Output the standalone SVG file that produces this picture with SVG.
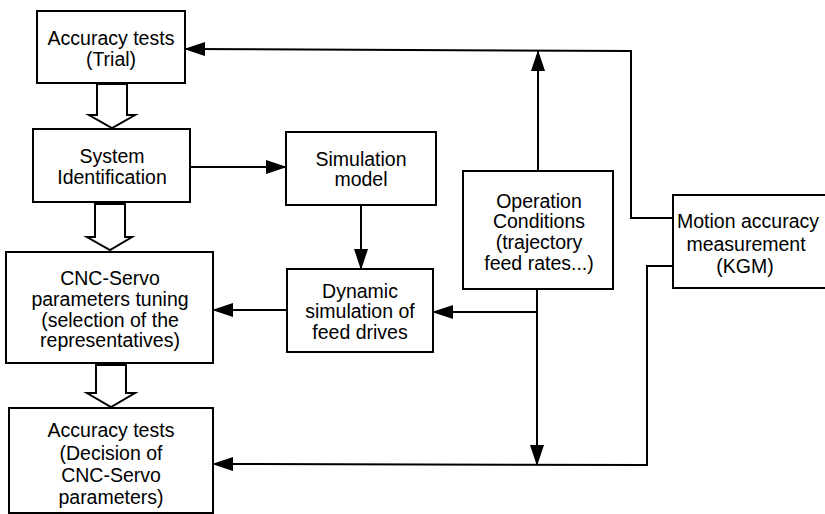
<svg xmlns="http://www.w3.org/2000/svg" width="825" height="514" viewBox="0 0 825 514">
<style>
.box{fill:#fff;stroke:#000;stroke-width:2}
.t{font-family:"Liberation Sans",Arial,sans-serif;font-size:19.5px;text-anchor:middle;fill:#000}
.c{fill:none;stroke:#000;stroke-width:2}
.h{fill:#fff;stroke:#000;stroke-width:2;stroke-linejoin:miter}
</style>
<defs>
<marker id="ah" markerUnits="userSpaceOnUse" markerWidth="21" markerHeight="14" refX="20" refY="7" orient="auto" viewBox="0 0 21 14">
<path d="M0,0 L21,7 L0,14 Z" fill="#000"/>
</marker>
</defs>
<rect width="825" height="514" fill="#fff"/>
<g id="connectors">
<polyline class="c" points="673,218 631,218 631,51 185,49" marker-end="url(#ah)"/>
<line class="c" x1="538" y1="171" x2="538" y2="51" marker-end="url(#ah)"/>
<line class="c" x1="190" y1="167" x2="286" y2="167" marker-end="url(#ah)"/>
<line class="c" x1="361" y1="205" x2="361" y2="269" marker-end="url(#ah)"/>
<line class="c" x1="287" y1="310" x2="213" y2="310" marker-end="url(#ah)"/>
<line class="c" x1="537" y1="290" x2="537" y2="465" marker-end="url(#ah)"/>
<line class="c" x1="537" y1="312" x2="433" y2="312" marker-end="url(#ah)"/>
<polyline class="c" points="673,266 647,266 647,465 213,464" marker-end="url(#ah)"/>
<path class="h" d="M97,84 L127,84 L127,115 L135,115 L112,128 L89,115 L97,115 Z"/>
<path class="h" d="M95,204 L125,204 L125,237 L132,237 L110,250 L87,237 L95,237 Z"/>
<path class="h" d="M96,365 L126,365 L126,393 L135,393 L111,407 L87,393 L96,393 Z"/>
</g>
<g id="accuracy-trial">
<rect class="box" x="37" y="11" width="148" height="72"/>
<text class="t" x="111" y="45">Accuracy tests</text>
<text class="t" x="111" y="66">(Trial)</text>
</g>
<g id="system-identification">
<rect class="box" x="33" y="129" width="157" height="73"/>
<text class="t" x="112" y="163">System</text>
<text class="t" x="112" y="184">Identification</text>
</g>
<g id="simulation-model">
<rect class="box" x="286" y="132" width="150" height="73"/>
<text class="t" x="361" y="166">Simulation</text>
<text class="t" x="361" y="186">model</text>
</g>
<g id="dynamic-simulation">
<rect class="box" x="287" y="269" width="146" height="83"/>
<text class="t" x="360" y="298">Dynamic</text>
<text class="t" x="360" y="318">simulation of</text>
<text class="t" x="360" y="339">feed drives</text>
</g>
<g id="cnc-servo-tuning">
<rect class="box" x="6" y="252" width="207" height="111"/>
<text class="t" x="110" y="285">CNC-Servo</text>
<text class="t" x="110" y="306">parameters tuning</text>
<text class="t" x="110" y="327">(selection of the</text>
<text class="t" x="110" y="347">representatives)</text>
</g>
<g id="accuracy-decision">
<rect class="box" x="9" y="408" width="204" height="105"/>
<text class="t" x="111" y="437">Accuracy tests</text>
<text class="t" x="111" y="460">(Decision of</text>
<text class="t" x="111" y="482">CNC-Servo</text>
<text class="t" x="111" y="504">parameters)</text>
</g>
<g id="operation-conditions">
<rect class="box" x="463" y="171" width="150" height="118"/>
<text class="t" x="539" y="208">Operation</text>
<text class="t" x="539" y="228">Conditions</text>
<text class="t" x="539" y="249">(trajectory</text>
<text class="t" x="539" y="270">feed rates...)</text>
</g>
<g id="motion-accuracy">
<rect class="box" x="673" y="195" width="160" height="93"/>
<text class="t" x="748" y="228">Motion accuracy</text>
<text class="t" x="746" y="251">measurement</text>
<text class="t" x="745" y="273">(KGM)</text>
</g>
</svg>
